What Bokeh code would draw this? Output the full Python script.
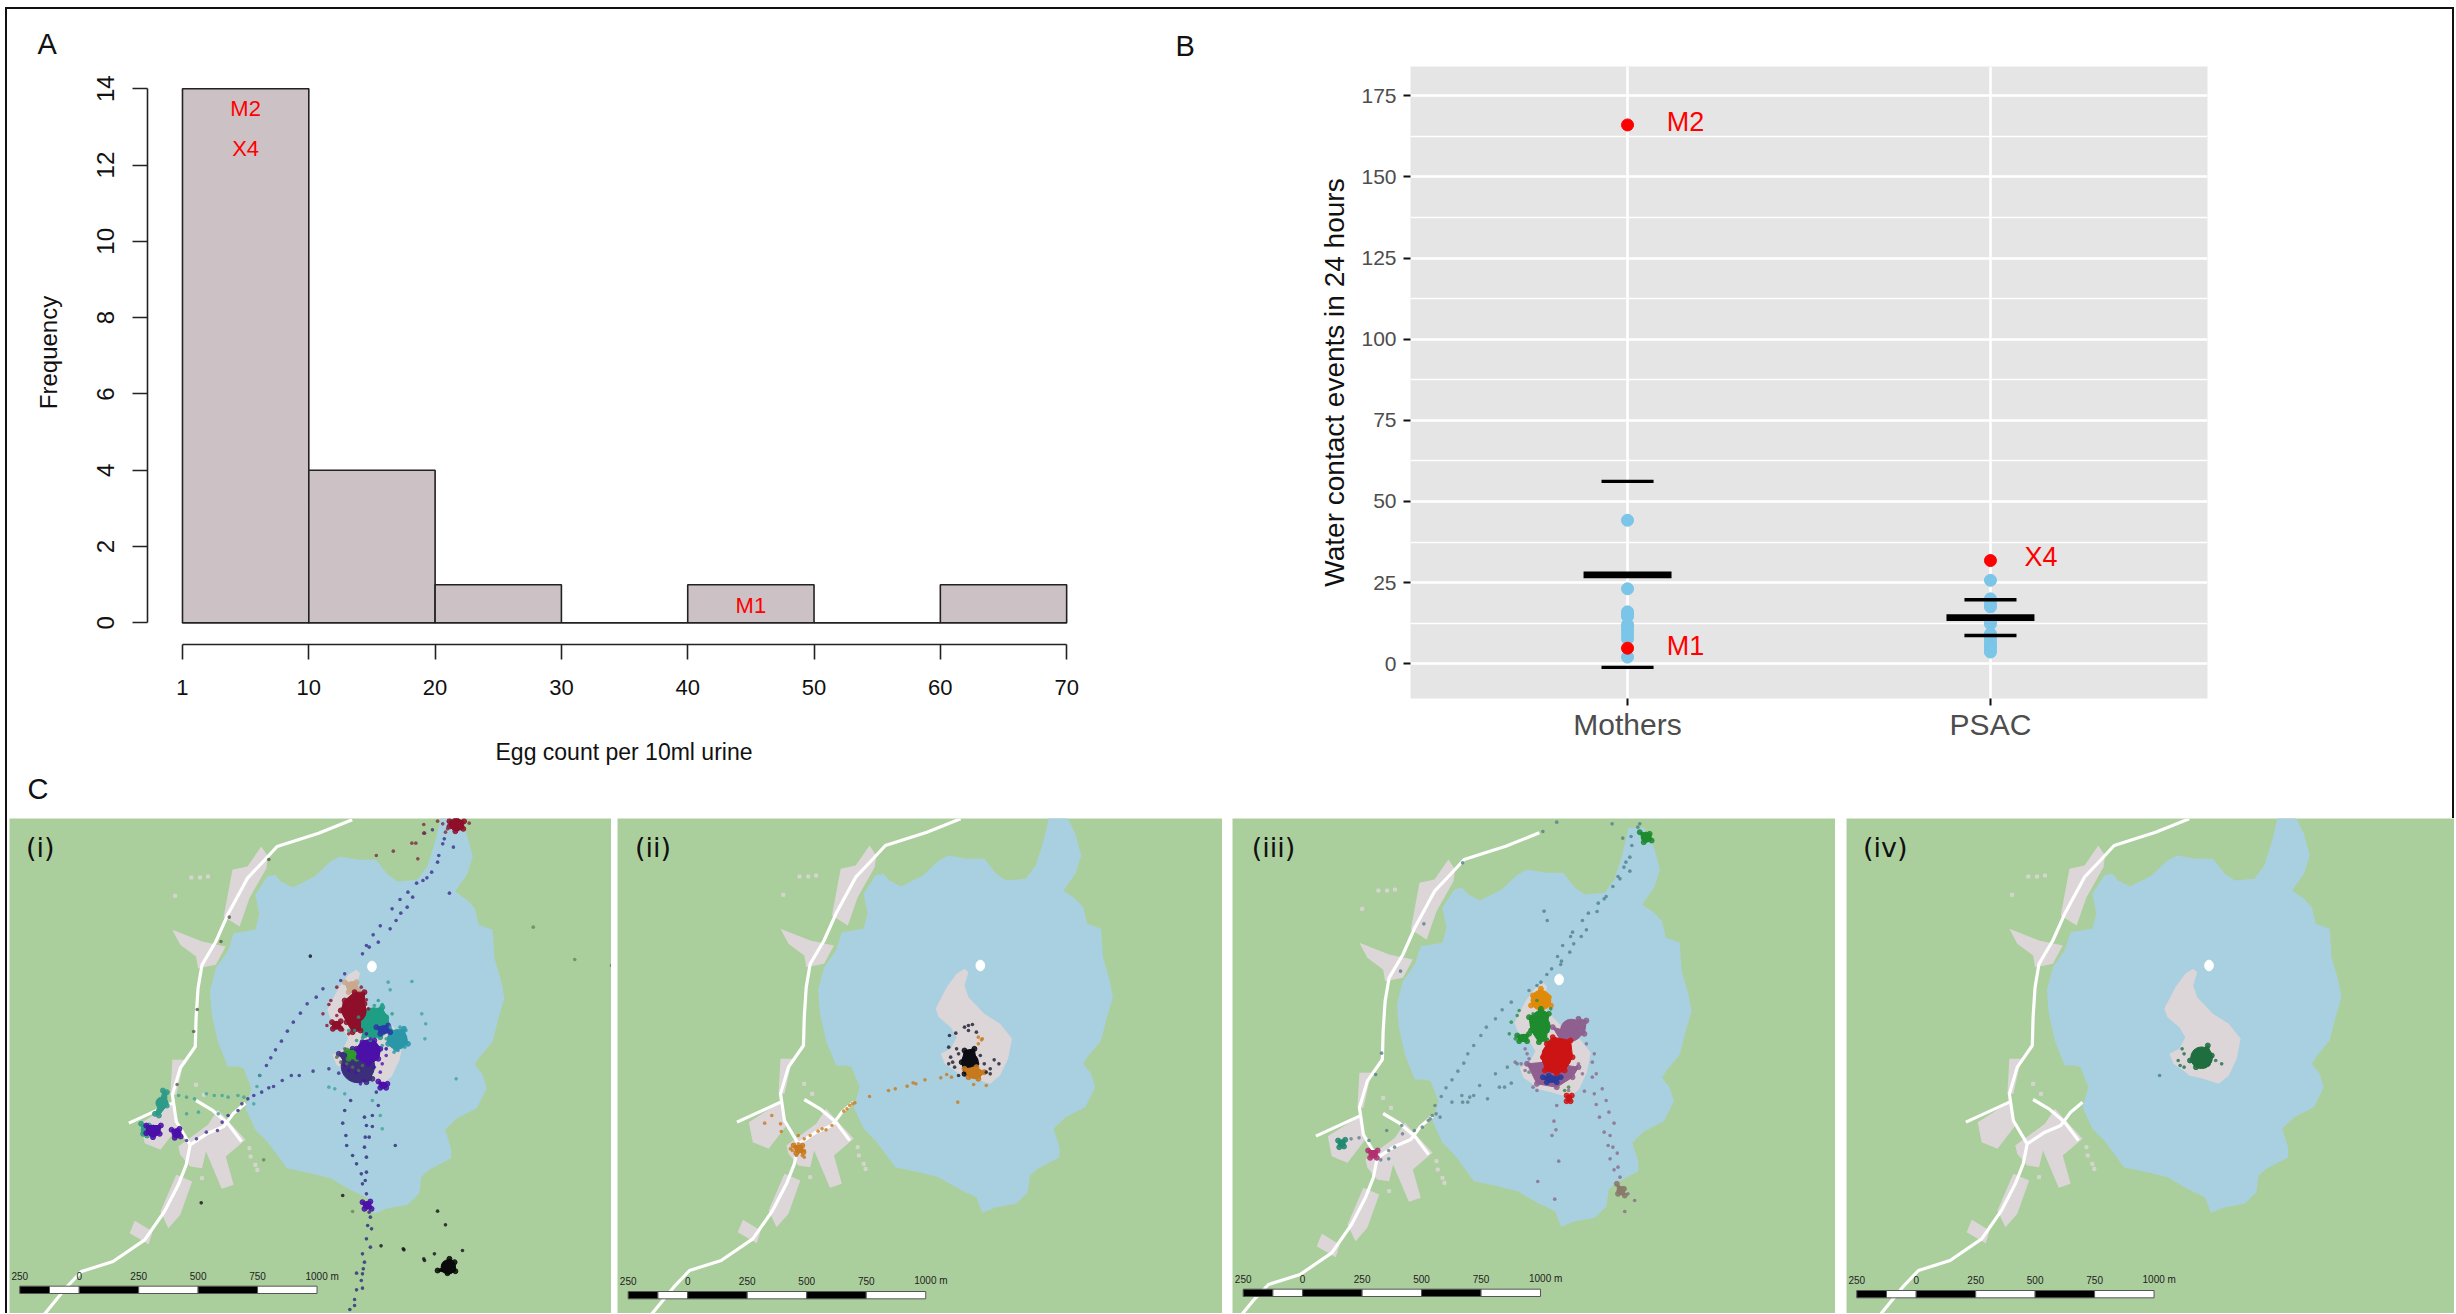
from bokeh.plotting import figure
from bokeh.models import Range1d, FixedTicker, Title, Spacer
from bokeh.layouts import row, column
from bokeh.core.properties import value
from bokeh.embed import file_html
from bokeh.resources import INLINE

# ---------- Panel A data ----------
bin_labels = ["1", "10", "20", "30", "40", "50", "60", "70"]
hist_counts = [14, 4, 1, 0, 1, 0, 1]
a_notes = ["M2", "X4", "M1"]
a_note_bin = [0.5, 0.5, 4.5]
a_note_y = [13.47, 12.43, 0.46]

# ---------- Panel B data ----------
groups = ["Mothers", "PSAC"]
mothers_blue = [44.2, 23.1, 16, 15, 14.6, 12, 11.5, 10.3, 9, 7.7, 2.05]
psac_blue = [25.7, 20, 18.5, 17.5, 13, 12.3, 9.2, 8, 7.2, 6, 5.4, 4.5, 3.6]
red_x = [1, 1, 2]
red_y = [166, 4.8, 31.8]
red_names = ["M2", "M1", "X4"]
red_label_x = [1.16, 1.16, 2.139]
red_label_y = [167, 5.6, 33]
means = [27.4, 14.2]
uppers = [56.2, 19.7]
lowers = [-1.1, 8.7]

# ---------- Map shapes (traced) ----------
lake_x = [1110,1150,1175,1190,1175,1150,1145,1175,1195,1205,1240,1245,1262,1270,1255,1240,1205,1195,1215,1225,1200,1150,1120,1135,1135,1080,1060,1055,1025,975,940,925,880,830,780,720,695,670,640,615,630,610,595,570,545,530,525,540,570,585,640,650,640,670,690,705,735,790,830,855,900,945,975,1000,1050,1075,1095,1105]
lake_y = [40,40,100,165,220,262,270,295,320,370,385,470,540,590,650,720,770,790,820,860,920,950,985,1040,1070,1105,1125,1175,1210,1220,1237,1190,1165,1130,1115,1100,1060,1020,985,920,860,800,795,795,720,640,570,500,450,395,385,340,280,225,220,240,258,225,180,165,175,175,220,240,235,195,120,70]
island_x = [895,905,895,905,945,985,1015,1005,985,960,920,885,870,845,835,860,875,860,830,822,850,875]
island_y = [505,515,555,590,640,670,715,775,825,850,835,825,810,790,760,745,710,680,650,625,560,520]
road_main_x = [885,800,695,660,620,570,540,505,495,490,488,450,430,440,475,465,445,410,360,280,200,160,105,90]
road_main_y = [55,95,135,180,230,340,420,490,560,650,735,800,880,960,1030,1090,1150,1230,1315,1380,1410,1460,1540,1560]
road_w_x = [320,430]
road_w_y = [965,905]
road_e_x = [490,530,570,605]
road_e_y = [897,925,965,1020]
road_j_x = [475,520,560,585,615]
road_j_y = [1030,995,975,935,905]
settle_xs = [[655,672,668,625,600,560,582,620],[430,505,565,540,495,490,450],[350,430,445,400,360],[430,460,440,425],
             [445,520,545,615,565,585,555,515,505,475,450],[440,480,450,420,400],[335,380,370,322]]
settle_ys = [[135,165,200,290,375,345,205,195],[385,420,435,490,500,465,430],[965,905,975,1045,1025],[775,775,880,880],
             [1035,970,925,1015,1065,1150,1162,1050,1100,1095,1060],[1120,1140,1240,1280,1230],[1258,1290,1328,1295]]
hamlet_x = [478,500,520,437,490,510,625,640,505,628,645]
hamlet_y = [228,228,225,283,850,880,1040,1090,1130,1065,1105]

# ---------- Scale bar ----------
scale_m = [-250, 0, 250, 500, 750, 1000]
scale_text = ["250", "0", "250", "500", "750", "1000 m"]
scale_edges = [-250, -125, 0, 250, 500, 750, 1000]
scale_fill = ["black", "white", "black", "white", "black", "white"]

# ---------- Tracks and clusters (per panel, (colour, x, y)) ----------
dots_i = [
 ("#3B2E8C", [915,932,942,960,985,990,1010,1028,1042,1030,1052,1068,1090,1105,1108,1118,1122,1145,1135,1000,955,925,1012,1078,1092,1072,
              855,830,790,755,735,712,690,678,660,640,625,610,600,575,560,548,520,495,470,
              870,860,815,798,775,758,740,725,710,695,683,672,655],
             [460,440,403,376,385,325,297,320,290,275,248,240,215,185,165,130,115,140,278,360,425,435,338,232,88,98,
              818,805,812,825,825,840,858,862,875,885,895,910,930,945,965,990,995,1015,1020,
              520,540,565,590,610,638,665,692,722,748,772,795,825]),
 ("#2A2A7A", [885,870,865,873,875,890,900,912,920,925,940,922,932,920,925,925,922,915,925,932,935,928,938,925,935,915,920,917,900,915,912,900,915,895,895,883,940,955,950,998],
             [900,930,968,1005,1035,1065,1090,1120,950,975,978,1010,1010,1040,1070,1115,1140,1150,1180,1235,1250,1275,1285,1315,1340,1360,1385,1405,1418,1420,1440,1468,1463,1497,1515,1527,945,915,875,1035]),
 ("#3FA39A", [648,655,615,640,600,575,560,540,520,490,470,450,470,500,550,1040,985,1065,1073,1075,1152,965,980,830,845,870,940,960],
             [858,825,890,910,885,890,885,885,880,895,890,885,940,935,940,543,568,640,715,670,835,985,545,860,865,880,900,945]),
 ("#6E7F63", [1347,1452,665,890,1545],[380,477,1078,1233,495]),
 ("#7D2A3E", [1070,1118,1125,1185,1040,1050,993,950,1055,1070,1130,1105],[72,70,95,68,128,128,152,165,175,98,85,62]),
 ("#5B5B4A", [678,578,557,497,488,446],[177,350,423,627,693,852]),
 ("#101018", [507,865,1105,1125,962,1020,1070,1097,1168,783,1018,1072],[1207,1185,1232,1273,1336,1348,1375,1360,1350,467,1345,1380]),
 ("#8F0F2A", [835,830,815,850,868,925,930,850,825,865,900,912,880,860],[600,612,640,560,610,598,625,645,675,688,580,560,700,680]),
 ("#1F9E86", [905,895,945,990,965,950,915,880,975,935,900,955],[650,690,615,640,612,635,712,690,715,720,720,600]),
 ("#2A97A8", [1010,1025,1022,1005,995,965,975,1018,985],[680,690,740,750,755,735,745,700,680]),
 ("#4A10A8", [870,880,900,945,965,975,960,920,910,905,950,975,925,935],[795,810,815,800,790,765,815,840,850,760,760,745,700,715]),
 ("#5A6A50", [850,860,875,890,905,915,870],[770,785,790,800,810,795,745]),
]
blobs_i = [
 ("#C8A98E", [870,900,905,880],[545,545,570,575]),
 ("#8F0F2A", [1135,1152,1172,1170,1150,1135],[62,55,62,85,92,78]),
 ("#1F9E86", [930,965,975,985,960,920,905,910],[630,620,650,690,710,705,680,650]),
 ("#2A97A8", [985,1020,1030,1000,980],[695,685,730,745,730]),
 ("#8F0F2A", [895,920,920,910,910,890,875,860,870],[575,575,610,640,690,695,665,630,600]),
 ("#8F0F2A", [838,860,860,840],[665,662,685,685]),
 ("#3B2E7A", [855,890,930,940,925,880],[760,745,790,835,845,805]),
 ("#2E9A2E", [875,900,900,880],[750,750,775,775]),
 ("#4A10A8", [915,945,960,955,930,905,900],[725,720,745,775,790,770,745]),
 ("#2A3AA8", [950,980,985,960],[680,675,695,700]),
 ("#4A10A8", [955,978,975,960],[843,850,862,862]),
 ("#4A10A8", [915,935,938,920],[1205,1203,1225,1225]),
 ("#2E9A88", [410,420,420,400,390,405],[870,875,915,945,940,900]),
 ("#2E9A88", [355,375,370,360],[970,975,1005,1000]),
 ("#4A10A8", [368,405,402,385,368],[975,975,1000,1010,998]),
 ("#4A10A8", [432,452,455,440],[988,985,1008,1012]),
 ("#0A0A0A", [1105,1125,1135,1148,1150,1130],[1410,1395,1375,1385,1412,1418]),
]
dots_ii = [
 ("#1A1A2A", [857,873,905,915,895,925,855,875,880,860,865,855,870,880,950,960,935,970,982,945,960,905],
             [705,698,675,672,680,695,740,745,760,770,785,790,800,825,815,820,765,778,790,790,805,690]),
 ("#C8791E", [930,938,930,940,918,950,878,655,703,720,750,765,772,795,835,850,862,612,618,605,598,590,560,545,535,525,505,490,475,430,408,390,432,470,460,480,490,475,485,470,455,490],
             [710,718,730,715,852,855,905,888,870,865,857,847,850,838,832,822,830,910,907,915,925,932,975,988,985,992,1005,1015,1005,970,945,968,993,1040,1050,1045,1050,1030,1065,1065,1045,1070]),
]
blobs_ii = [
 ("#0C0C14", [895,920,925,930,895,888],[750,745,790,815,820,785]),
 ("#C8791E", [895,925,945,930,905],[805,800,815,835,830]),
 ("#C8791E", [463,485,488,470],[1035,1035,1055,1058]),
]
dots_iii = [
 ("#4F7F8C", [1060,1055,1017,1038,1040,1035,1025,1020,1035,1005,1010,992,975,955,970,952,930,915,925,890,885,912,893,865,883,852,862,860,837,825,810,800,818,826,990,850,815,612,514,455,407,392],
             [70,80,113,108,135,170,185,200,212,228,235,258,288,308,295,333,338,360,388,395,408,408,430,435,455,468,482,492,505,522,545,555,332,360,70,65,93,187,370,512,758,822]),
 ("#5F7F8C", [780,735,712,695,672,658,640,625,615,600,585,570,558,542,535,525,510,490,458,460,440,420,425,405,425,350,330,375,
              780,750,725,695,735,718,705,675,655,640,630,610,612,625,585,555,530,545],
             [570,605,628,655,680,705,735,760,788,812,838,862,888,915,945,960,980,990,975,1000,1040,990,1050,1078,1075,1012,1015,1020,
              815,790,800,820,848,860,860,895,855,885,890,885,905,905,905,950,955,940]),
 ("#8A6A88", [920,945,950,965,975,958,982,995,970,985,980,992,1003,985,1005,995,1010,1030,1047,1022,850,843,848,838,855,802,845,
              770,775,745,940,950,925,915,905,925,910,940,945,770,790,880,905,915,780,760,800],
             [872,880,912,865,900,950,935,968,995,1005,1035,1040,1058,1075,1100,1108,1130,1180,1200,1233,915,962,988,1005,1082,1143,1196,
              745,760,785,830,820,730,670,655,665,690,785,760,810,860,870,790,820,775,790,870]),
 ("#2E8B3E", [755,730,750,735,745,790,835,800,870,880],[630,700,645,665,715,640,625,600,870,860]),
]
blobs_iii = [
 ("#8F5F90", [840,870,905,925,920,890,860],[680,690,655,660,700,715,720]),
 ("#8F5F90", [775,820,905,890,850,800],[790,785,800,830,860,850]),
 ("#E08A0A", [810,830,835,810,785,790],[565,590,615,625,615,585]),
 ("#1E8B2E", [810,830,825,825,805,785,780],[625,640,690,720,725,690,650]),
 ("#1E8B2E", [750,780,775,755],[705,700,722,722]),
 ("#CC1414", [840,885,890,870,850,820,815,825],[710,720,770,810,820,810,770,730]),
 ("#2A3A9A", [815,830,860,850,825],[830,825,830,845,845]),
 ("#CC1414", [875,888,885,875],[885,885,902,902]),
 ("#1E8B2E", [1060,1085,1090,1070],[95,100,120,125]),
 ("#1F8A6E", [297,315,312,300],[1020,1018,1038,1040]),
 ("#B03070", [373,397,395,378],[1050,1050,1072,1072]),
 ("#8A7A6A", [1002,1020,1022,1005],[1150,1165,1185,1180]),
]
dots_iv = [
 ("#1F6E4A", [889,894,879,884,894,974,989],[745,760,780,795,800,780,790]),
 ("#3F7F8F", [832],[825]),
]
blobs_iv = [
 ("#1F6E3F", [924,954,964,954,924,909],[760,735,765,790,800,780]),
]

# ---------- Colours ----------
GREEN = "#ABCF9C"
WATER = "#A9D0E0"
SETTLE = "#DCD6D8"

# ---------- Panel A ----------
SANS = "Liberation Sans"
pa = figure(width=1163, height=809, output_backend="svg", toolbar_location=None,
            x_range=Range1d(-0.277, 7.268), y_range=Range1d(-0.566, 14.74),
            min_border_left=140, min_border_right=70, min_border_top=51, min_border_bottom=174,
            x_axis_label="Egg count per 10ml urine", y_axis_label="Frequency")
pa.grid.visible = False
pa.outline_line_color = None
pa.background_fill_color = "white"
lefts = list(range(len(hist_counts)))
pa.quad(left=lefts, right=[l + 1 for l in lefts], bottom=[0] * len(lefts), top=hist_counts,
        fill_color="#CCC1C5", line_color="#222222", line_width=1.6)
pa.text(a_note_bin, a_note_y, text=a_notes, text_color="#FF0000", text_font=value(SANS),
        text_font_size="22px", text_align="center", text_baseline="middle")
for ax in (pa.xaxis[0], pa.yaxis[0]):
    ax.axis_line_color = "#222222"
    ax.axis_line_width = 1.6
    ax.major_tick_line_color = "#222222"
    ax.major_tick_line_width = 1.6
    ax.major_tick_out = 15
    ax.major_tick_in = 0
    ax.minor_tick_line_color = None
    ax.major_label_text_color = "#111111"
    ax.major_label_text_font = SANS
    ax.axis_label_text_font = SANS
    ax.axis_label_text_font_style = "normal"
    ax.axis_label_text_color = "#111111"
pa.xaxis.ticker = FixedTicker(ticks=list(range(8)))
pa.xaxis.major_label_overrides = {i: s for i, s in enumerate(bin_labels)}
pa.xaxis.bounds = (0, 7)
pa.xaxis.major_label_text_font_size = "22px"
pa.xaxis.major_label_standoff = 20
pa.xaxis.axis_label_text_font_size = "23px"
pa.xaxis.axis_label_standoff = 41
pa.yaxis.ticker = FixedTicker(ticks=list(range(0, 15, 2)))
pa.yaxis.bounds = (0, 14)
pa.yaxis.major_label_orientation = "vertical"
pa.yaxis.major_label_text_font_size = "24px"
pa.yaxis.major_label_standoff = 18
pa.yaxis.axis_label_text_font_size = "24px"
pa.yaxis.axis_label_standoff = 33

pa.add_layout(Title(text="A", align="left", offset=-110, standoff=2, text_font=SANS, text_font_size="29px",
                    text_font_style="normal", text_color="#111111"), "above")
pa.add_layout(Title(text="C", align="left", offset=-120, standoff=6, text_font=SANS, text_font_size="29px",
                    text_font_style="normal", text_color="#111111"), "below")

# ---------- Panel B ----------
pb = figure(width=1276, height=809, output_backend="svg", toolbar_location=None,
            x_range=Range1d(0.402, 2.598), y_range=Range1d(-10.7, 184),
            min_border_left=240, min_border_right=239, min_border_top=57, min_border_bottom=120,
            y_axis_label="Water contact events in 24 hours")
pb.background_fill_color = "#E5E5E5"
pb.outline_line_color = None
pb.xgrid.ticker = FixedTicker(ticks=[1, 2])
pb.ygrid.ticker = FixedTicker(ticks=list(range(0, 176, 25)),
                              minor_ticks=[12.5 + 25 * i for i in range(7)])
for g in (pb.xgrid[0], pb.ygrid[0]):
    g.grid_line_color = "white"
    g.grid_line_width = 2.6
pb.ygrid.minor_grid_line_color = "white"
pb.ygrid.minor_grid_line_width = 1.4
pb.xaxis.ticker = FixedTicker(ticks=[1, 2])
pb.xaxis.major_label_overrides = {1: groups[0], 2: groups[1]}
pb.yaxis.ticker = FixedTicker(ticks=list(range(0, 176, 25)))
for ax in (pb.xaxis[0], pb.yaxis[0]):
    ax.axis_line_color = None
    ax.major_tick_line_color = "#111111"
    ax.major_tick_line_width = 2
    ax.major_tick_out = 7
    ax.major_tick_in = 0
    ax.minor_tick_line_color = None
    ax.major_label_text_color = "#4D4D4D"
    ax.major_label_text_font = SANS
pb.xaxis.major_label_text_font_size = "30px"
pb.xaxis.major_label_standoff = 2
pb.yaxis.major_label_text_font_size = "21px"
pb.yaxis.major_label_standoff = 7
pb.yaxis.axis_label_text_font = SANS
pb.yaxis.axis_label_text_font_style = "normal"
pb.yaxis.axis_label_text_font_size = "28px"
pb.yaxis.axis_label_text_color = "#111111"
pb.yaxis.axis_label_standoff = 8

pb.scatter([1] * len(mothers_blue), mothers_blue, size=12, color="#7AC5E8")
pb.scatter([2] * len(psac_blue), psac_blue, size=12, color="#7AC5E8")
xs = [1, 2]
pb.segment([x - 0.1212 for x in xs], means, [x + 0.1212 for x in xs], means, line_color="black", line_width=6.6)
pb.segment([x - 0.0717 for x in xs], uppers, [x + 0.0717 for x in xs], uppers, line_color="black", line_width=3.4)
pb.segment([x - 0.0717 for x in xs], lowers, [x + 0.0717 for x in xs], lowers, line_color="black", line_width=3.4)
pb.scatter(red_x, red_y, size=12, color="#FF0000")
pb.text(red_label_x, red_label_y, text=red_names, text_color="#FF0000", text_font=value(SANS),
        text_font_size="27px", text_align="center", text_baseline="middle")
pb.add_layout(Title(text="B", align="left", offset=-235, standoff=9, text_font=SANS, text_font_size="29px",
                    text_font_style="normal", text_color="#111111"), "above")

# ---------- Panels C ----------
def map_panel(w, x0, x1, dx, dy, tag, tag_x, tag_y, bar_x, bar_y, lab_y, dots, blobs):
    p = figure(width=w, height=495, output_backend="svg", toolbar_location=None,
               x_range=Range1d(x0, x1), y_range=Range1d(1539, 54),
               x_axis_location=None, y_axis_location=None,
               min_border_left=0, min_border_right=0, min_border_top=0, min_border_bottom=0)
    p.grid.visible = False
    p.outline_line_color = None
    p.background_fill_color = GREEN
    p.patch([v + dx for v in lake_x], [v + dy for v in lake_y], fill_color=WATER, line_color=None)
    p.patches([[v + dx for v in s] for s in settle_xs], [[v + dy for v in s] for s in settle_ys],
              fill_color=SETTLE, line_color=None)
    p.patch([v + dx for v in island_x], [v + dy for v in island_y], fill_color=SETTLE, line_color=None)
    p.scatter([v + dx for v in hamlet_x], [v + dy for v in hamlet_y], size=3, marker="square",
              color=SETTLE, alpha=0.8)
    p.ellipse([935 + dx], [495 + dy], width=22, height=32, color="white")
    for rx, ry in ((road_main_x, road_main_y), (road_w_x, road_w_y), (road_e_x, road_e_y), (road_j_x, road_j_y)):
        p.line([v + dx for v in rx], [v + dy for v in ry], line_color="white", line_width=3.2, line_join="round")
    for col, bx, by in blobs:
        p.patch(bx, by, fill_color=col, line_color=col, line_width=1)
        p.scatter(bx, by, size=5, color=col, alpha=0.85)
        extent_px = min((max(bx) - min(bx)) / 2.529, (max(by) - min(by)) / 3)
        p.scatter([sum(bx) / len(bx)], [sum(by) / len(by)], size=extent_px, color=col)
    for col, dxs, dys in dots:
        p.scatter(dxs, dys, size=3.6, color=col, alpha=0.8, line_color=None)
    # scale bar
    sx = [bar_x + (m + 250) * 0.6016 for m in scale_edges]
    p.quad(left=sx[:-1], right=sx[1:], bottom=[bar_y + 22] * 6, top=[bar_y] * 6,
           fill_color=scale_fill, line_color="#555555", line_width=1)
    lab_x = [bar_x + (m + 250) * 0.6016 + (13 if t.endswith("m") else 0) for m, t in zip(scale_m, scale_text)]
    p.text(lab_x, [lab_y] * 6, text=scale_text, text_font=value(SANS), text_font_size="10px",
           text_color="#222222", text_align="center", text_baseline="middle")
    p.text([tag_x], [tag_y], text=[tag], text_font=value("DejaVu Sans"), text_font_size="27px",
           text_color="#111111", text_align="center", text_baseline="middle")
    return p

m1 = map_panel(602, 22, 1545, 4, 3, "(i)", 100, 142, 48, 1457, 1427, dots_i, blobs_i)
m2 = map_panel(605, 18, 1547, 0, 0, "(ii)", 108, 142, 45, 1473, 1441, dots_ii, blobs_ii)
m3 = map_panel(603, 30, 1555, -79, 42, "(iii)", 134, 140, 57, 1466, 1435, dots_iii, blobs_iii)
m4 = map_panel(608, 40, 1578, 22, 0, "(iv)", 138, 140, 66, 1470, 1438, dots_iv, blobs_iv)

top_line = Spacer(width=2449, height=2, styles={"background-color": "#111111"})
left_line = Spacer(width=2, height=1304, styles={"background-color": "#111111"})
right_line = Spacer(width=2, height=809, styles={"background-color": "#111111"})
top_row = row(column(pa), column(pb), Spacer(width=6, height=809), right_line)
bottom_row = row(Spacer(width=2, height=495), m1, Spacer(width=6, height=495), m2,
                 Spacer(width=10, height=495), m3, Spacer(width=11, height=495), m4)
content = column(top_row, bottom_row)
body = row(Spacer(width=5, height=1304), left_line, content)
root = column(Spacer(width=10, height=7), row(Spacer(width=5, height=2), top_line), body,
              styles={"position": "absolute", "left": "0px", "top": "0px"})

open("out.html", "w").write(file_html(root, INLINE))
